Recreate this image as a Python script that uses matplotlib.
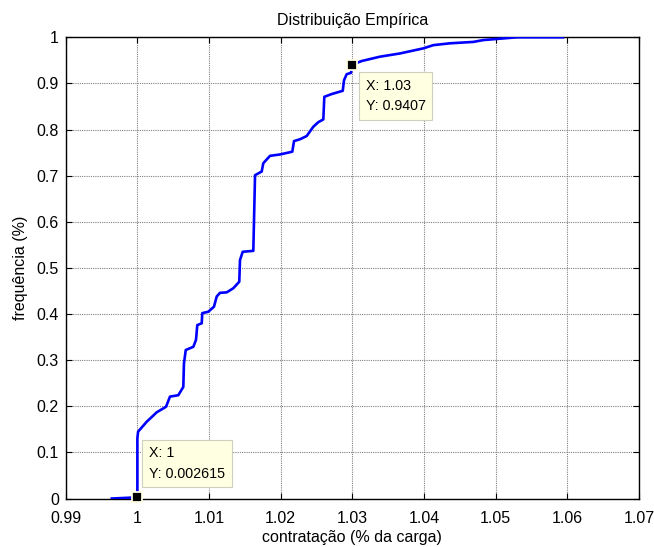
import numpy as np
import matplotlib.pyplot as plt

plt.rcParams['font.family'] = ['Liberation Sans', 'DejaVu Sans']

# Distribuicao empirica (contratacao x frequencia acumulada)
contratacao = [0.99642, 1.0000, 1.0000, 1.0001, 1.0013, 1.0027, 1.0040, 1.00455,
               1.00571, 1.00641, 1.0065, 1.00675, 1.00781, 1.00818, 1.00836,
               1.00898, 1.00906, 1.0099, 1.01069, 1.01107, 1.01153, 1.01247,
               1.01339, 1.01422, 1.01432, 1.0147, 1.01618, 1.01642, 1.01735,
               1.01757, 1.01851, 1.0199, 1.02162, 1.02186, 1.0227, 1.02363,
               1.02455, 1.02525, 1.02595, 1.02609, 1.02712, 1.02866, 1.02884,
               1.02921, 1.02981, 1.0300, 1.03131, 1.03386, 1.03665, 1.0399,
               1.0413, 1.04363, 1.04688, 1.04828, 1.05294, 1.0594]
frequencia = [0.0, 0.002615, 0.131, 0.145, 0.1665, 0.187, 0.199, 0.221,
              0.224, 0.242, 0.293, 0.322, 0.329, 0.344, 0.376,
              0.380, 0.402, 0.405, 0.416, 0.438, 0.446, 0.447,
              0.456, 0.470, 0.517, 0.535, 0.537, 0.701, 0.709,
              0.727, 0.743, 0.746, 0.752, 0.775, 0.779, 0.786,
              0.806, 0.816, 0.822, 0.871, 0.877, 0.884, 0.907,
              0.920, 0.923, 0.9407, 0.9486, 0.958, 0.965, 0.976,
              0.983, 0.987, 0.990, 0.994, 1.0, 1.0]

# pontos marcados (data tips)
tips_x = [1.0, 1.03]
tips_y = [0.002615, 0.9407]
tips_txt = ['X: 1\nY: 0.002615', 'X: 1.03\nY: 0.9407']
tips_off = [(8.6, 36.6), (9.5, -10.1)]

xticks = [0.99, 1.0, 1.01, 1.02, 1.03, 1.04, 1.05, 1.06, 1.07]
xlabels = ['0.99', '1', '1.01', '1.02', '1.03', '1.04', '1.05', '1.06', '1.07']
yticks = [0, 0.1, 0.2, 0.3, 0.4, 0.5, 0.6, 0.7, 0.8, 0.9, 1.0]
ylabels = ['0', '0.1', '0.2', '0.3', '0.4', '0.5', '0.6', '0.7', '0.8', '0.9', '1']

fig = plt.figure(figsize=(6.54, 5.47), dpi=100)
ax = fig.add_axes([0.1005, 0.0886, 0.8765, 0.8432])

ax.plot(contratacao, frequencia, color='#0000ff', lw=1.9, zorder=3)

for x, y, txt, off in zip(tips_x, tips_y, tips_txt, tips_off):
    ax.plot([x], [y], 's', color='black', ms=7.5, mec='#fffde0', mew=1.3,
            zorder=5, clip_on=False)
    ax.annotate(txt, xy=(x, y), xytext=off, textcoords='offset points',
                ha='left', va='top', fontsize=10.3, linespacing=1.55,
                bbox=dict(boxstyle='square,pad=0.48', fc='#ffffe1',
                          ec='#cfcfbf', lw=0.8),
                zorder=6, annotation_clip=False)

ax.set_xlim(0.99, 1.07)
ax.set_ylim(0, 1)
ax.set_xticks(xticks)
ax.set_xticklabels(xlabels)
ax.set_yticks(yticks)
ax.set_yticklabels(ylabels)
ax.tick_params(direction='in', length=4, width=0.8, top=True, right=True,
               labelsize=11.5)
ax.tick_params(axis='y', pad=5)
ax.tick_params(axis='x', pad=9)
ax.grid(True, color='#808080', lw=0.8, ls=(0, (1, 1)))
for s in ax.spines.values():
    s.set_linewidth(1.0)

ax.set_title('Distribuição Empírica', fontsize=11.5, pad=9)
ax.set_xlabel('contratação (% da carga)', fontsize=11.5, labelpad=3)
ax.set_ylabel('frequência (%)', fontsize=11.5, labelpad=6)

fig.savefig('out.png', dpi=100)
